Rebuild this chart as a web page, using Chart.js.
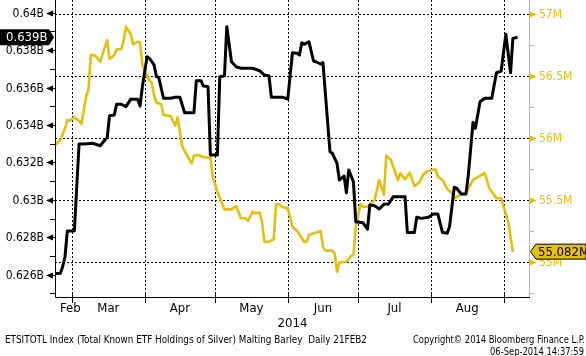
<!DOCTYPE html>
<html><head><meta charset="utf-8">
<script src="https://cdn.jsdelivr.net/npm/chart.js@4/dist/chart.umd.min.js"></script>
<style>html,body{margin:0;padding:0;background:#fff;overflow:hidden}#wrap{width:586px;height:356px;position:relative}</style>
</head><body><div id="wrap"><canvas id="c" width="586" height="356"></canvas></div>
<script>
// ETSITOTL Index (Total Known ETF Holdings of Silver), billions
const etfDates = ['02-21','02-24','02-25','02-26','02-27','03-02','03-04','03-06','03-10','03-13','03-15','03-16','03-17','03-19','03-20','03-22','03-24','03-26','03-29','03-30','03-31',
'04-02','04-03','04-05','04-06','04-07','04-09','04-12','04-14','04-16','04-18','04-22','04-23','04-25','04-26','04-28','04-29',
'05-02','05-03','05-05','05-06','05-08','05-10','05-12','05-17','05-20','05-22','05-24','05-25','05-30',
'06-01','06-03','06-05','06-06','06-07','06-08','06-10','06-12','06-13','06-15','06-16','06-19','06-20','06-22','06-23','06-25','06-26','06-27','06-29','06-30',
'07-03','07-05','07-06','07-08','07-10','07-12','07-14','07-16','07-21','07-22','07-25','07-26','07-28','07-31',
'08-02','08-04','08-06','08-08','08-09','08-11','08-12','08-14','08-16','08-17','08-19','08-20','08-22','08-24','08-27','08-29','08-31',
'09-02','09-04','09-05','09-07'];
const etfValues = [0.62604,0.62608,0.62643,0.62696,0.62834,0.62834,0.63298,0.63298,0.63302,0.63289,0.63320,0.63332,0.63450,0.63453,0.63511,0.63511,0.63498,0.63537,0.63537,0.63501,0.63605,
0.63765,0.63756,0.63721,0.63658,0.63653,0.63543,0.63543,0.63548,0.63548,0.63466,0.63466,0.63637,0.63637,0.63608,0.63605,0.63240,
0.63240,0.63658,0.63662,0.63925,0.63738,0.63711,0.63703,0.63703,0.63690,0.63667,0.63662,0.63548,0.63548,
0.63539,0.63786,0.63783,0.63774,0.63840,0.63831,0.63845,0.63742,0.63738,0.63726,0.63733,0.63257,0.63249,0.63195,0.63106,0.63127,0.63038,0.63160,0.63097,0.62883,
0.62878,0.62843,0.62973,0.62969,0.62951,0.62976,0.62978,0.63017,0.63017,0.62825,0.62825,0.62907,0.62901,0.62907,
0.62924,0.62924,0.62825,0.62821,0.62857,0.63067,0.63062,0.63031,0.63031,0.63133,0.63414,0.63382,0.63524,0.63543,0.63543,0.63679,0.63688,
0.63885,0.63679,0.63863,0.63869];

// Malting Barley, millions
const barleyDates = ['02-21','02-24','02-26','02-27','02-28','03-02','03-04','03-05','03-07','03-08','03-09','03-11','03-13','03-16','03-17','03-19','03-20','03-22','03-23','03-24','03-26','03-27','03-29','03-30','03-31',
'04-02','04-04','04-05','04-06','04-08','04-09','04-12','04-14','04-15','04-17','04-19','04-21','04-22','04-24','04-26','04-29','04-30',
'05-02','05-05','05-08','05-10','05-12','05-14','05-15','05-17','05-18','05-20','05-21','05-22','05-24','05-26','05-27','05-28','05-30',
'06-01','06-03','06-05','06-08','06-09','06-10','06-15','06-16','06-17','06-20','06-21','06-22','06-23','06-26','06-28','06-29','06-30',
'07-02','07-03','07-05','07-08','07-10','07-12','07-13','07-15','07-18','07-19','07-21','07-23','07-25','07-27','07-29','07-31',
'08-03','08-04','08-06','08-08','08-10','08-11','08-14','08-16','08-17','08-19','08-22','08-24','08-26','08-29','08-31',
'09-03','09-05'];
const barleyValues = [55.932,55.986,56.081,56.148,56.142,56.169,56.142,56.115,56.335,56.395,56.672,56.666,56.618,56.793,56.640,56.672,56.718,56.718,56.793,56.900,56.841,56.758,56.779,56.774,56.591,
56.497,56.444,56.349,56.287,56.277,56.188,56.182,56.102,56.169,55.932,55.865,55.798,55.860,55.865,55.847,55.844,55.690,
55.569,55.427,55.427,55.454,55.355,55.355,55.333,55.408,55.395,55.402,55.327,55.166,55.166,55.185,55.468,55.470,55.444,
55.435,55.287,55.252,55.166,55.166,55.220,55.252,55.126,55.094,55.094,55.073,54.924,55.000,55.005,55.053,55.058,55.287,
55.470,55.448,55.448,55.502,55.664,55.543,55.860,55.825,55.664,55.718,55.669,55.723,55.615,55.642,55.712,55.739,
55.750,55.690,55.664,55.591,55.556,55.516,55.548,55.556,55.597,55.664,55.698,55.718,55.597,55.516,55.516,
55.327,55.082];

const leftTicks = [0.626,0.628,0.63,0.632,0.634,0.636,0.638,0.64];
const leftTickLabels = ['0.626B','0.628B','0.63B','0.632B','0.634B','0.636B','0.638B','0.64B'];
const rightTicks = [55,55.5,56,56.5,57];
const rightTickLabels = ['55M','55.5M','56M','56.5M','57M'];
const monthStarts = ['02-01','03-01','04-01','05-01','06-01','07-01','08-01','09-01'];
const monthLabels = ['Feb','Mar','Apr','May','Jun','Jul','Aug'];
const yearLabel = '2014';
const footerLeft = 'ETSITOTL Index (Total Known ETF Holdings of Silver) Malting Barley  Daily 21FEB2';
const footerRight1 = 'Copyright\u00A9 2014 Bloomberg Finance L.P.';
const footerRight2 = '06-Sep-2014 14:37:59';

const YEL = '#E3BF0E';
const FONT = '"DejaVu Sans Condensed","Liberation Sans",sans-serif';

const dayOf = s => { const [m, d] = s.split('-').map(Number); return (Date.UTC(2014, m - 1, d) - Date.UTC(2014, 0, 1)) / 864e5; };

const bbPlugin = {
  id: 'bb',
  beforeDatasetsDraw(chart) {
    const { ctx, chartArea: a, scales: { x, y1 } } = chart;
    ctx.save();
    ctx.strokeStyle = '#000'; ctx.lineWidth = 1; ctx.setLineDash([2, 2]);
    ctx.beginPath();
    rightTicks.forEach(v => { const py = Math.round(y1.getPixelForValue(v)) + 0.5; ctx.moveTo(a.left, py); ctx.lineTo(a.right, py); });
    monthStarts.forEach(s => { const d = dayOf(s); if (d <= x.min || d >= x.max) return; const px = Math.round(x.getPixelForValue(d)) + 0.5; ctx.moveTo(px, a.top); ctx.lineTo(px, a.bottom); });
    ctx.stroke();
    ctx.restore();
  },
  afterDatasetsDraw(chart) {
    const { ctx, chartArea: a, scales: { x, y, y1 } } = chart;
    ctx.save();
    ctx.setLineDash([]);
    ctx.lineWidth = 1;
    // axes
    ctx.strokeStyle = '#000';
    ctx.beginPath();
    ctx.moveTo(a.left + 0.5, 0); ctx.lineTo(a.left + 0.5, a.bottom + 0.5); ctx.lineTo(a.right, a.bottom + 0.5);
    monthStarts.forEach(s => { const d = dayOf(s); if (d <= x.min || d >= x.max) return; const px = Math.round(x.getPixelForValue(d)) + 0.5; ctx.moveTo(px, a.bottom - 4); ctx.lineTo(px, a.bottom + 6); });
    ctx.stroke();
    ctx.strokeStyle = YEL;
    ctx.beginPath(); ctx.moveTo(a.right - 0.5, 0); ctx.lineTo(a.right - 0.5, a.bottom); ctx.stroke();

    // left ticks
    ctx.fillStyle = '#000'; ctx.strokeStyle = '#000';
    ctx.font = '12px ' + FONT; ctx.textAlign = 'right'; ctx.textBaseline = 'middle';
    const lstep = leftTicks[1] - leftTicks[0];
    leftTicks.forEach((v, i) => {
      const py = Math.round(y.getPixelForValue(v)) + 0.5;
      ctx.beginPath(); ctx.moveTo(46, py); ctx.lineTo(53, py - 3); ctx.lineTo(53, py + 3); ctx.closePath(); ctx.fill();
      ctx.beginPath(); ctx.moveTo(52, py); ctx.lineTo(a.left, py); ctx.stroke();
      ctx.fillText(leftTickLabels[i], 44, py);
    });
    for (let v = leftTicks[0] - lstep / 2; v < y.max; v += lstep) {
      if (v < y.min) continue;
      const py = Math.round(y.getPixelForValue(v)) + 0.5;
      ctx.beginPath(); ctx.moveTo(50, py); ctx.lineTo(a.left, py); ctx.stroke();
    }
    // right ticks
    ctx.fillStyle = YEL; ctx.strokeStyle = YEL; ctx.textAlign = 'left';
    const rstep = rightTicks[1] - rightTicks[0];
    rightTicks.forEach((v, i) => {
      const py = Math.round(y1.getPixelForValue(v)) + 0.5;
      ctx.beginPath(); ctx.moveTo(a.right, py - 3); ctx.lineTo(a.right + 7, py); ctx.lineTo(a.right, py + 3); ctx.closePath(); ctx.fill();
      ctx.fillText(rightTickLabels[i], 539, py);
    });
    for (let v = rightTicks[0] - rstep / 2; v < y1.max; v += rstep) {
      if (v < y1.min) continue;
      const py = Math.round(y1.getPixelForValue(v)) + 0.5;
      ctx.beginPath(); ctx.moveTo(a.right, py); ctx.lineTo(a.right + 4, py); ctx.stroke();
    }
    // month labels
    ctx.fillStyle = '#000'; ctx.font = '13px ' + FONT; ctx.textAlign = 'center';
    monthLabels.forEach((lab, i) => {
      const mid = (x.getPixelForValue(dayOf(monthStarts[i])) + x.getPixelForValue(dayOf(monthStarts[i + 1]))) / 2;
      const w = ctx.measureText(lab).width;
      const cx = Math.max(mid, a.left + 5 + w / 2);
      ctx.fillText(lab, cx, 309);
    });
    ctx.fillText(yearLabel, (a.left + a.right) / 2, 324);
    // footer
    ctx.font = '10px ' + FONT;
    ctx.textAlign = 'left'; ctx.fillText(footerLeft, 5, 340, 362);
    ctx.textAlign = 'right'; ctx.fillText(footerRight1, 585, 340, 172); ctx.fillText(footerRight2, 584, 352, 94);

    // last value boxes
    const lastE = etfValues[etfValues.length - 1];
    const ly = y.getPixelForValue(lastE);
    ctx.fillStyle = '#000';
    ctx.beginPath(); ctx.moveTo(0, ly - 8); ctx.lineTo(49, ly - 8); ctx.lineTo(54, ly); ctx.lineTo(49, ly + 8); ctx.lineTo(0, ly + 8); ctx.closePath(); ctx.fill();
    ctx.fillStyle = '#fff'; ctx.font = '13px ' + FONT; ctx.textAlign = 'left';
    ctx.fillText(lastE.toFixed(3) + 'B', 6, ly + 0.5);

    const lastB = barleyValues[barleyValues.length - 1];
    const ry = y1.getPixelForValue(lastB) - 0.5;
    ctx.fillStyle = YEL; ctx.strokeStyle = '#000';
    ctx.beginPath(); ctx.moveTo(530.5, ry); ctx.lineTo(536, ry - 7.5); ctx.lineTo(586, ry - 7.5); ctx.lineTo(586, ry + 7.5); ctx.lineTo(536, ry + 7.5); ctx.closePath(); ctx.fill(); ctx.stroke();
    ctx.fillStyle = '#000';
    ctx.fillText(lastB.toFixed(3) + 'M', 538, ry + 0.5);
    ctx.restore();
  }
};

new Chart(document.getElementById('c'), {
  type: 'line',
  data: {
    datasets: [
      { label: 'ETSITOTL Index', data: etfDates.map((d, i) => ({ x: dayOf(d), y: etfValues[i] })), yAxisID: 'y',
        borderColor: '#000', borderWidth: 3, pointRadius: 0, tension: 0, borderJoinStyle: 'round', order: 0 },
      { label: 'Malting Barley', data: barleyDates.map((d, i) => ({ x: dayOf(d), y: barleyValues[i] })), yAxisID: 'y1',
        borderColor: YEL, borderWidth: 2.6, pointRadius: 0, tension: 0, borderJoinStyle: 'round', order: 1 }
    ]
  },
  options: {
    responsive: false, animation: false, devicePixelRatio: 1,
    layout: { padding: { left: 55, right: 56, top: 0, bottom: 59 } },
    plugins: { legend: { display: false }, tooltip: { enabled: false } },
    scales: {
      x: { type: 'linear', display: false, min: 51.74, max: 254.3 },
      y: { type: 'linear', display: false, position: 'left', min: 0.624809, max: 0.640679 },
      y1: { type: 'linear', display: false, position: 'right', min: 54.7202, max: 57.1153 }
    }
  },
  plugins: [bbPlugin]
});
</script></body></html>
